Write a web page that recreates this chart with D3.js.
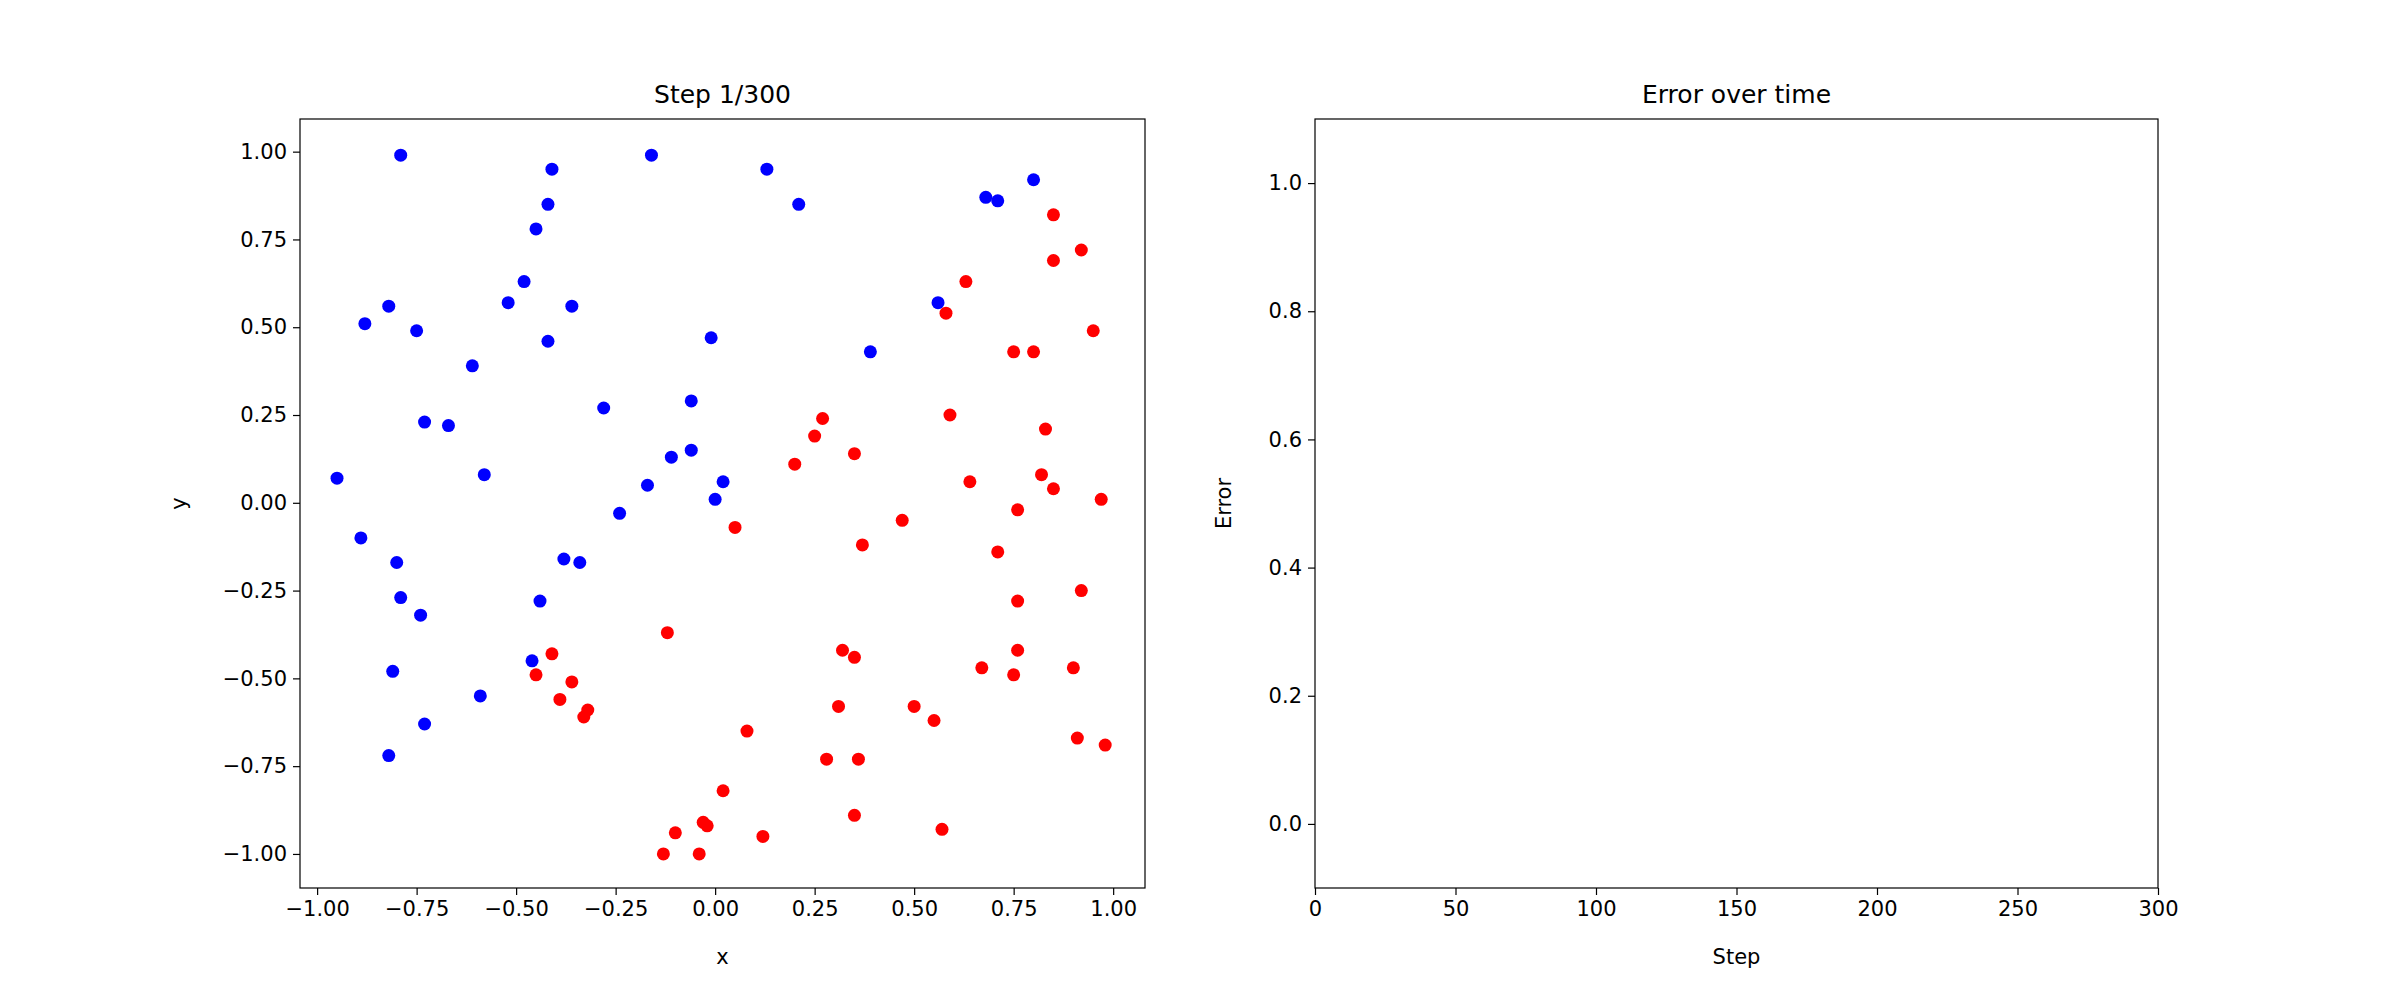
<!DOCTYPE html>
<html><head><meta charset="utf-8">
<script src="https://cdn.jsdelivr.net/npm/d3@7/dist/d3.min.js"></script>
<style>body{margin:0;background:#fff}text{font-family:"DejaVu Sans",sans-serif;fill:#000}</style>
</head><body><svg id="c" width="2400" height="1000"></svg>
<script>
const blueX=[-0.95,-0.79,-0.88,-0.82,-0.75,-0.73,-0.67,-0.89,-0.80,-0.79,-0.74,-0.81,-0.73,-0.82,-0.59,-0.58,-0.61,-0.52,-0.48,-0.45,-0.42,-0.41,-0.42,-0.36,-0.44,-0.46,-0.38,-0.34,-0.28,-0.24,-0.16,-0.17,-0.11,-0.06,-0.06,-0.01,0.00,0.02,0.13,0.21,0.39,0.56,0.68,0.71,0.80];
const blueY=[0.07,0.99,0.51,0.56,0.49,0.23,0.22,-0.10,-0.17,-0.27,-0.32,-0.48,-0.63,-0.72,-0.55,0.08,0.39,0.57,0.63,0.78,0.85,0.95,0.46,0.56,-0.28,-0.45,-0.16,-0.17,0.27,-0.03,0.99,0.05,0.13,0.29,0.15,0.47,0.01,0.06,0.95,0.85,0.43,0.57,0.87,0.86,0.92];
const redX=[0.05,-0.45,-0.41,-0.39,-0.36,-0.32,-0.33,-0.12,-0.13,-0.10,-0.04,-0.03,-0.02,0.02,0.08,0.12,0.20,0.25,0.27,0.28,0.31,0.32,0.35,0.35,0.35,0.36,0.37,0.47,0.50,0.55,0.57,0.58,0.59,0.63,0.64,0.67,0.71,0.75,0.75,0.76,0.76,0.76,0.80,0.82,0.83,0.85,0.85,0.85,0.90,0.91,0.92,0.92,0.95,0.97,0.98];
const redY=[-0.07,-0.49,-0.43,-0.56,-0.51,-0.59,-0.61,-0.37,-1.00,-0.94,-1.00,-0.91,-0.92,-0.82,-0.65,-0.95,0.11,0.19,0.24,-0.73,-0.58,-0.42,0.14,-0.44,-0.89,-0.73,-0.12,-0.05,-0.58,-0.62,-0.93,0.54,0.25,0.63,0.06,-0.47,-0.14,0.43,-0.49,-0.02,-0.28,-0.42,0.43,0.08,0.21,0.82,0.69,0.04,-0.47,-0.67,-0.25,0.72,0.49,0.01,-0.69];
const leftXTicks=[-1.00,-0.75,-0.50,-0.25,0.00,0.25,0.50,0.75,1.00];
const leftYTicks=[-1.00,-0.75,-0.50,-0.25,0.00,0.25,0.50,0.75,1.00];
const rightXTicks=[0,50,100,150,200,250,300];
const rightYTicks=[0.0,0.2,0.4,0.6,0.8,1.0];
const svg=d3.select("#c");
function panel(x0,x1,y0,y1,xd,yd,xt,yt,fx,fy,title,xl,yl,ylOff){
  const g=svg.append("g");
  const xs=d3.scaleLinear().domain(xd).range([x0,x1]);
  const ys=d3.scaleLinear().domain(yd).range([y1,y0]);
  const ax=g.append("g").attr("transform",`translate(0,${y1})`).call(d3.axisBottom(xs).tickValues(xt).tickFormat(fx).tickSize(7).tickPadding(6));
  const ay=g.append("g").attr("transform",`translate(${x0},0)`).call(d3.axisLeft(ys).tickValues(yt).tickFormat(fy).tickSize(7).tickPadding(6));
  [ax,ay].forEach(a=>{a.select(".domain").remove();a.selectAll("text").style("font-size","21px").style("font-family","DejaVu Sans");a.selectAll("line").attr("stroke","#000").attr("stroke-width",1.2);});
  g.append("text").attr("x",(x0+x1)/2).attr("y",y0-16).attr("text-anchor","middle").style("font-size","25px").text(title);
  g.append("text").attr("x",(x0+x1)/2).attr("y",y1+76).attr("text-anchor","middle").style("font-size","21px").text(xl);
  g.append("text").attr("transform",`translate(${x0-ylOff},${(y0+y1)/2}) rotate(-90)`).attr("text-anchor","middle").style("font-size","21px").text(yl);
  return {g,xs,ys,frame:()=>g.append("rect").attr("x",x0).attr("y",y0).attr("width",x1-x0).attr("height",y1-y0).attr("fill","none").attr("stroke","#000").attr("stroke-width",1.2)};
}
const L=panel(300,1145,119,888,[-1.043,1.08],[-1.097,1.093],leftXTicks,leftYTicks,d3.format(".2f"),d3.format(".2f"),"Step 1/300","x","y",114);
L.g.selectAll(".b").data(blueX).enter().append("circle").attr("cx",d=>L.xs(d)).attr("cy",(d,i)=>L.ys(blueY[i])).attr("r",6.5).attr("fill","#0000ff");
L.g.selectAll(".r").data(redX).enter().append("circle").attr("cx",d=>L.xs(d)).attr("cy",(d,i)=>L.ys(redY[i])).attr("r",6.5).attr("fill","#ff0000");
L.frame();
const R=panel(1315,2158,119,888,[0,300],[-0.1,1.1],rightXTicks,rightYTicks,d3.format("d"),d3.format(".1f"),"Error over time","Step","Error",84);
R.frame();
</script></body></html>
